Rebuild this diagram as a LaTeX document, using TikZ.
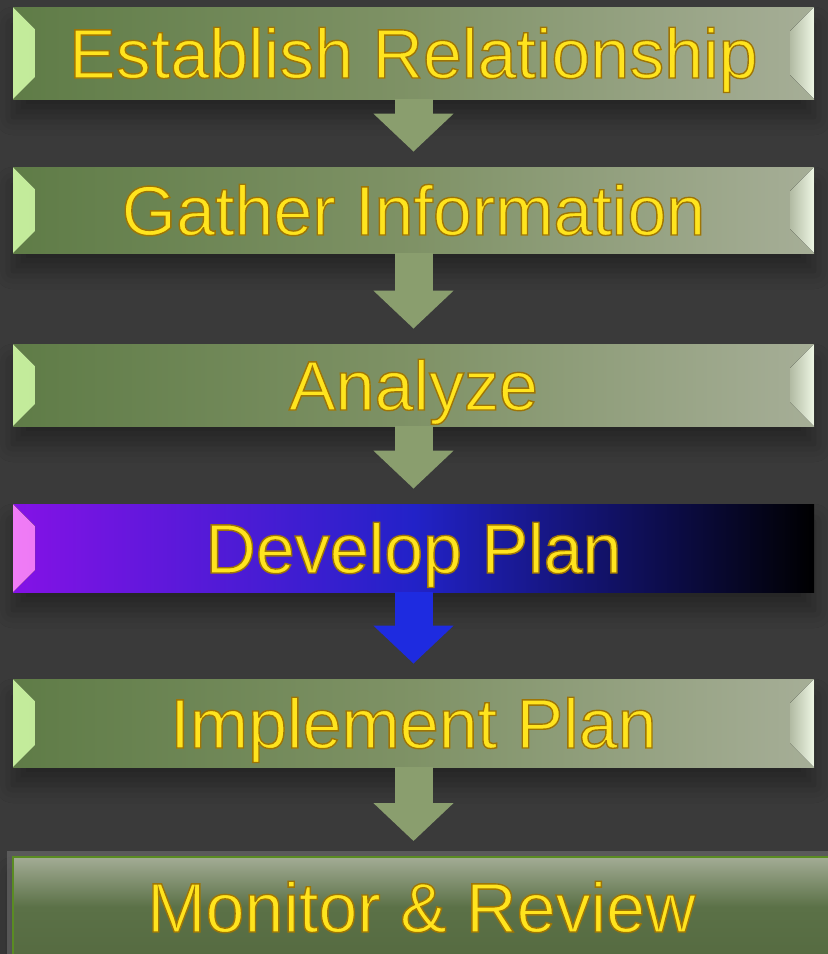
\documentclass[tikz,border=0pt]{standalone}
\usepackage{fontspec}
\setmainfont{Liberation Sans}
\usetikzlibrary{arrows.meta,shadows.blur}
\definecolor{bg}{HTML}{3A3A3A}
\definecolor{barL}{HTML}{5F7C47}
\definecolor{barM}{HTML}{7F9266}
\definecolor{barR}{HTML}{A6AE97}
\definecolor{bevL}{HTML}{C4EC9C}
\definecolor{bevLin}{HTML}{7E9E5E}
\definecolor{bevR}{HTML}{EEF6E4}
\definecolor{bevRin}{HTML}{B2BBA3}
\definecolor{devL}{HTML}{8412E6}
\definecolor{devM}{HTML}{2222C8}
\definecolor{devBev}{HTML}{F07CF6}
\definecolor{devBevin}{HTML}{9A30C8}
\definecolor{monTop}{HTML}{A3AC95}
\definecolor{monMid}{HTML}{5B7147}
\definecolor{monBot}{HTML}{566B41}
\definecolor{monEdge}{HTML}{5A8C22}
\definecolor{glow}{HTML}{8C8C8C}
\definecolor{arrowgreen}{HTML}{8A9E6E}
\definecolor{arrowblue}{HTML}{1E2BE0}
\definecolor{tyellow}{HTML}{FFE41E}
\newcommand{\goldedge}[1]{\special{pdf:code 2 Tr 0.7 w 0.62 0.46 0.02 RG}#1\special{pdf:code 0 Tr}}

\begin{document}
\begin{tikzpicture}[node distance=84pt]
    \tikzstyle{stage} = [rectangle, minimum width=400.5pt, minimum height=44pt, inner sep=0pt,
        text=tyellow, font=\fontsize{35pt}{40pt}\selectfont, text height=30pt, text depth=5pt,
        left color=barL, right color=barR, middle color=barM,
        blur shadow={shadow xshift=0pt, shadow yshift=-9pt, shadow blur radius=9pt, shadow opacity=35},
        path picture={
            \fill[left color=bevL, right color=bevLin] (path picture bounding box.north west)
                -- ([shift={(11pt,-11pt)}]path picture bounding box.north west)
                -- ([shift={(11pt,11pt)}]path picture bounding box.south west)
                -- (path picture bounding box.south west) -- cycle;
            \fill[right color=bevR, left color=bevRin] (path picture bounding box.north east)
                -- ([shift={(-12pt,-12pt)}]path picture bounding box.north east)
                -- ([shift={(-12pt,12pt)}]path picture bounding box.south east)
                -- (path picture bounding box.south east) -- cycle;
        }]
    \tikzstyle{current} = [stage, left color=devL, right color=black, middle color=devM,
        path picture={
            \fill[left color=devBev, right color=devBevin] (path picture bounding box.north west)
                -- ([shift={(11pt,-11pt)}]path picture bounding box.north west)
                -- ([shift={(11pt,11pt)}]path picture bounding box.south west)
                -- (path picture bounding box.south west) -- cycle;
        }]
    \tikzstyle{final} = [stage, minimum width=408.5pt, minimum height=50pt,
        top color=monTop, bottom color=monBot, middle color=monMid,
        draw=monEdge, line width=1pt, path picture={},
        preaction={draw=glow, line width=6pt, opacity=.4}]
    \tikzstyle{flow} = [draw=arrowgreen, line width=19pt, -{Triangle[width=39pt,length=19pt]}, shorten >=7.5pt]

    \fill[bg] (0,0) rectangle (414pt,-477pt);
    \useasboundingbox (0,0) rectangle (414pt,-477pt);

    \node [stage, minimum height=46pt] (est) at (206.75pt,-26.5pt) {\goldedge{Establish Relationship}};
    \node [stage, below of=est, yshift=5.5pt, minimum height=43pt] (gat) {\goldedge{Gather Information}};
    \node [stage, below of=gat, yshift=-3.5pt, minimum height=41pt] (ana) {\goldedge{Analyze}};
    \node [current, below of=ana, yshift=2.5pt] (dev) {\goldedge{Develop Plan}};
    \node [stage, below of=dev, yshift=-3.5pt] (imp) {\goldedge{Implement Plan}};
    \node [final, below of=imp, yshift=-8pt, xshift=4pt] (mon) {\goldedge{Monitor \& Review}};

    \draw [flow] (est) -- (gat);
    \draw [flow] (gat) -- (ana);
    \draw [flow] (ana) -- (dev);
    \draw [flow, draw=arrowblue] (dev) -- (imp);
    \draw [flow] (imp.south) -- (imp.south |- mon.north);
\end{tikzpicture}
\end{document}
